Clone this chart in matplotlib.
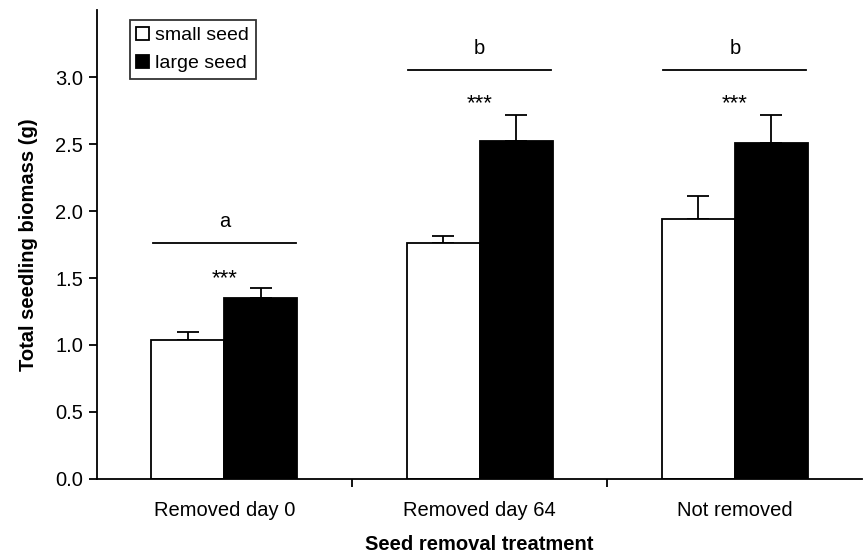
import matplotlib.pyplot as plt
import numpy as np

plt.rcParams['font.family'] = ['Liberation Sans', 'DejaVu Sans']

treatments = ["Removed day 0", "Removed day 64", "Not removed"]
small_seed = [1.04, 1.76, 1.94]
small_err = [0.06, 0.055, 0.17]
large_seed = [1.35, 2.52, 2.51]
large_err = [0.075, 0.195, 0.205]
letters = ["a", "b", "b"]
line_y = [1.76, 3.05, 3.05]
star_y = [1.42, 2.72, 2.72]

fig = plt.figure(figsize=(8.65, 5.56), dpi=100)
ax = fig.add_axes([0.112, 0.1385, 0.885, 0.8435])

x = np.arange(len(treatments))
w = 0.286
ax.bar(x - w / 2, small_seed, w, color="white", edgecolor="black", linewidth=1.3,
       label="small seed", zorder=2)
ax.bar(x + w / 2, large_seed, w, color="black", edgecolor="black", linewidth=1.3,
       label="large seed", zorder=2)
ax.errorbar(x - w / 2, small_seed, yerr=[np.zeros(3), small_err], fmt="none",
            ecolor="black", elinewidth=1.3, capsize=8, capthick=1.3, zorder=1)
ax.errorbar(x + w / 2, large_seed, yerr=[np.zeros(3), large_err], fmt="none",
            ecolor="black", elinewidth=1.3, capsize=8, capthick=1.3, zorder=1)

for i in range(3):
    ax.plot([x[i] - 0.28, x[i] + 0.28], [line_y[i], line_y[i]], color="black", lw=1.3)
    ax.text(x[i], line_y[i] + 0.09, letters[i], ha="center", va="bottom", fontsize=14.5)
    ax.text(x[i], star_y[i], "***", ha="center", va="bottom", fontsize=16)

ax.set_xlim(-0.5, 2.5)
ax.set_ylim(0, 3.5)
ax.set_yticks(np.arange(0, 3.01, 0.5))
ax.set_yticklabels([f"{v:.1f}" for v in np.arange(0, 3.01, 0.5)], fontsize=14.5)
ax.set_xticks([0.5, 1.5], minor=True)
ax.set_xticks(x)
ax.set_xticklabels(treatments, fontsize=14.5)
ax.tick_params(axis="x", which="major", length=0, pad=16)
ax.tick_params(axis="x", which="minor", length=6, width=1.3)
ax.tick_params(axis="y", length=6, width=1.3, direction="out", pad=4)
ax.spines["top"].set_visible(False)
ax.spines["right"].set_visible(False)
ax.spines["left"].set_linewidth(1.3)
ax.spines["bottom"].set_linewidth(1.3)

ax.set_ylabel("Total seedling biomass (g)", fontsize=14.5, fontweight="bold", labelpad=12)
ax.set_xlabel("Seed removal treatment", fontsize=14.5, fontweight="bold", labelpad=11)

leg = ax.legend(loc="upper left", bbox_to_anchor=(0.03, 1.0), fontsize=14,
                frameon=True, fancybox=False, edgecolor="black", handlelength=0.65,
                handleheight=0.65, handletextpad=0.3, borderpad=0.35, labelspacing=0.55)
leg.get_frame().set_linewidth(1.3)

fig.savefig("out.png", dpi=100)
